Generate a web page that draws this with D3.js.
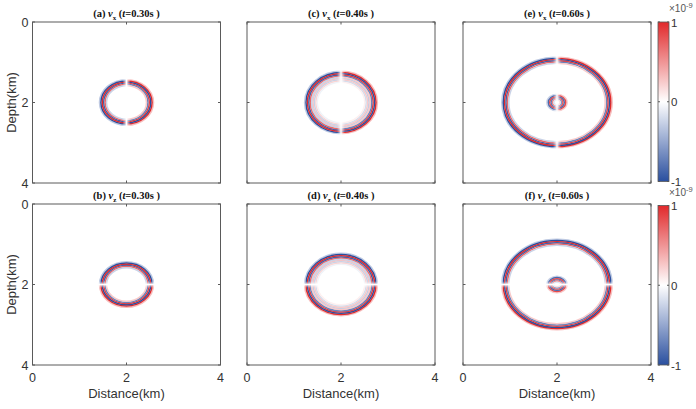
<!DOCTYPE html>
<html>
<head>
<meta charset="utf-8">
<script src="https://cdn.jsdelivr.net/npm/d3@7"></script>
<style>
  body { margin: 0; background: #fff; }
  svg { display: block; }
</style>
</head>
<body>
<div id="main"></div>
<script>
// ---- data ----
const times = [0.30, 0.40, 0.60];          // snapshot times (s), one column each
const components = ["x", "z"];             // top row v_x, bottom row v_z
const letters = [["(a)", "(c)", "(e)"], ["(b)", "(d)", "(f)"]];
const axisTicks = [0, 2, 4];               // km
const cbarTicks = [-1, 0, 1];              // x 1e-9
const source = [2, 2];                     // source position (km)

// wavefronts: time, x-radius, z-radius (km), relative amplitude
const frontTime = [0.30, 0.40, 0.40, 0.60, 0.60];
const frontRx   = [0.50, 0.58, 0.70, 1.10, 0.14];
const frontRz   = [0.49, 0.58, 0.70, 1.05, 0.13];
const frontAmp  = [1.00, 0.28, 1.00, 1.00, 0.85];

// wavelet bands, outer -> inner, offset from the front (km) and value
const bandOffset = [0.075, 0.045, 0.015, -0.015, -0.045, -0.075];
const bandValue  = [0.30, 1.00, -1.00, 0.90, -0.70, 0.25];

const ctx = {
    w: 696,
    h: 409,
    panelW: 188,
    panelH: 161,
    lefts: [32.5, 247, 463],
    tops: [22, 204],
    cbarX: 658,
    cbarW: 11,
    gap: 0.085,   // km, fade width where the component vanishes
};

const color = d3.scaleLinear()
                .domain([-1, 0, 1])
                .range(["#2a4f9f", "#ffffff", "#e1292b"])
                .interpolate(d3.interpolateRgb);

const svg = d3.select("#main").append("svg")
              .attr("width", ctx.w)
              .attr("height", ctx.h)
              .style("font-family", "Liberation Sans, Arial, sans-serif");

const defs = svg.append("defs");
defs.append("filter").attr("id", "soft")
    .attr("x", "-5%").attr("y", "-5%").attr("width", "110%").attr("height", "110%")
    .append("feGaussianBlur").attr("stdDeviation", 0.65);

function halfPath(x, y, rx, rz, comp, half){
    let cx = source[0], cz = source[1];
    let ax = Math.abs(x(cx + rx) - x(cx)), az = Math.abs(y(cz + rz) - y(cz));
    if (comp === "x"){
        // right half (+) or left half (-)
        if (half > 0) return `M${x(cx)},${y(cz - rz)} A${ax},${az} 0 0 1 ${x(cx)},${y(cz + rz)}`;
        return `M${x(cx)},${y(cz + rz)} A${ax},${az} 0 0 1 ${x(cx)},${y(cz - rz)}`;
    }
    // bottom half (+) or top half (-)
    if (half > 0) return `M${x(cx + rx)},${y(cz)} A${ax},${az} 0 0 1 ${x(cx - rx)},${y(cz)}`;
    return `M${x(cx - rx)},${y(cz)} A${ax},${az} 0 0 1 ${x(cx + rx)},${y(cz)}`;
}

function drawPanel(row, col){
    let comp = components[row], t = times[col];
    let left = ctx.lefts[col], top = ctx.tops[row];
    let x = d3.scaleLinear().domain([0, 4]).range([left, left + ctx.panelW]);
    let y = d3.scaleLinear().domain([0, 4]).range([top, top + ctx.panelH]);
    let id = `p${row}${col}`;

    // mask fading the wavefield where this component vanishes
    let grad = defs.append("linearGradient").attr("id", id + "g")
                   .attr("gradientUnits", "userSpaceOnUse");
    if (comp === "x"){
        grad.attr("x1", x(source[0] - ctx.gap)).attr("x2", x(source[0] + ctx.gap))
            .attr("y1", 0).attr("y2", 0);
    } else {
        grad.attr("x1", 0).attr("x2", 0)
            .attr("y1", y(source[1] - ctx.gap)).attr("y2", y(source[1] + ctx.gap));
    }
    [[0, "#fff"], [0.25, "#999"], [0.5, "#000"], [0.75, "#999"], [1, "#fff"]].forEach(function(s){
        grad.append("stop").attr("offset", s[0]).attr("stop-color", s[1]);
    });
    defs.append("mask").attr("id", id + "m")
        .append("rect").attr("x", left).attr("y", top)
        .attr("width", ctx.panelW).attr("height", ctx.panelH)
        .attr("fill", `url(#${id}g)`);

    defs.append("clipPath").attr("id", id + "c")
        .append("rect").attr("x", left).attr("y", top)
        .attr("width", ctx.panelW).attr("height", ctx.panelH);

    let g = svg.append("g").attr("clip-path", `url(#${id}c)`);
    g.append("rect").attr("x", left).attr("y", top)
     .attr("width", ctx.panelW).attr("height", ctx.panelH).attr("fill", "#fff");

    let field = g.append("g").attr("mask", `url(#${id}m)`).attr("filter", "url(#soft)");
    let bw = (x(0.03) - x(0)) * 1.05;

    let fronts = d3.range(frontTime.length).filter(i => frontTime[i] === t);
    fronts.forEach(function(i){
        [1, -1].forEach(function(half){
            bandOffset.forEach(function(off, k){
                let v = bandValue[k] * frontAmp[i] * half;
                field.append("path")
                     .attr("d", halfPath(x, y, frontRx[i] + off, frontRz[i] + off, comp, half))
                     .attr("fill", "none")
                     .attr("stroke", color(v))
                     .attr("stroke-width", bw);
            });
        });
    });

    // frame and inward ticks on all four sides
    let axG = svg.append("g").attr("stroke", "#5a5a5a").attr("fill", "none");
    axG.append("rect").attr("x", left).attr("y", top)
       .attr("width", ctx.panelW).attr("height", ctx.panelH).attr("stroke-width", 1);
    axisTicks.forEach(function(tk){
        axG.append("line").attr("x1", x(tk)).attr("x2", x(tk)).attr("y1", top).attr("y2", top + 2.5);
        axG.append("line").attr("x1", x(tk)).attr("x2", x(tk))
           .attr("y1", top + ctx.panelH).attr("y2", top + ctx.panelH - 2.5);
        axG.append("line").attr("y1", y(tk)).attr("y2", y(tk)).attr("x1", left).attr("x2", left + 2.5);
        axG.append("line").attr("y1", y(tk)).attr("y2", y(tk))
           .attr("x1", left + ctx.panelW).attr("x2", left + ctx.panelW - 2.5);
    });

    // title: (a) v_x (t=0.30s)
    let title = svg.append("text")
                   .attr("x", x(2)).attr("y", top - 5)
                   .attr("text-anchor", "middle")
                   .attr("font-family", "Liberation Serif, Times New Roman, serif")
                   .attr("font-weight", "bold").attr("font-size", 10.5).attr("fill", "#111");
    title.append("tspan").text(letters[row][col] + " ");
    title.append("tspan").attr("font-style", "italic").text("v");
    title.append("tspan").attr("font-size", 7).attr("dy", 2.5).text(comp);
    title.append("tspan").attr("dy", -2.5).text(" (");
    title.append("tspan").attr("font-style", "italic").text("t");
    title.append("tspan").text(`=${t.toFixed(2)}s )`);

    // tick labels only on outer panels
    if (col === 0){
        axisTicks.forEach(function(tk){
            svg.append("text").attr("x", left - 4).attr("y", y(tk) + 4.5)
               .attr("text-anchor", "end").attr("font-size", 12.5).attr("fill", "#333")
               .text(tk);
        });
        svg.append("text")
           .attr("transform", `translate(${left - 17},${y(2)}) rotate(-90)`)
           .attr("text-anchor", "middle").attr("font-size", 13).attr("fill", "#333")
           .text("Depth(km)");
    }
    if (row === 1){
        axisTicks.forEach(function(tk){
            svg.append("text").attr("x", x(tk)).attr("y", top + ctx.panelH + 17)
               .attr("text-anchor", "middle").attr("font-size", 12.5).attr("fill", "#333")
               .text(tk);
        });
        svg.append("text").attr("x", x(2)).attr("y", top + ctx.panelH + 33)
           .attr("text-anchor", "middle").attr("font-size", 13).attr("fill", "#333")
           .text("Distance(km)");
    }
}

function drawColorbar(row){
    let top = ctx.tops[row] + (row === 0 ? 0 : 1.5);
    let h = ctx.panelH - 1.5;
    let cy = d3.scaleLinear().domain([-1, 1]).range([top + h, top]);
    let gid = "cb" + row;
    let grad = defs.append("linearGradient").attr("id", gid)
                   .attr("x1", 0).attr("x2", 0).attr("y1", 1).attr("y2", 0);
    d3.range(-1, 1.001, 0.1).forEach(function(v){
        grad.append("stop").attr("offset", (v + 1) / 2).attr("stop-color", color(v));
    });
    svg.append("rect").attr("x", ctx.cbarX).attr("y", top)
       .attr("width", ctx.cbarW).attr("height", h)
       .attr("fill", `url(#${gid})`).attr("stroke", "#5a5a5a").attr("stroke-width", 0.8);
    cbarTicks.forEach(function(tk){
        svg.append("line").attr("x1", ctx.cbarX).attr("x2", ctx.cbarX + 2)
           .attr("y1", cy(tk)).attr("y2", cy(tk)).attr("stroke", "#5a5a5a");
        svg.append("line").attr("x1", ctx.cbarX + ctx.cbarW).attr("x2", ctx.cbarX + ctx.cbarW - 2)
           .attr("y1", cy(tk)).attr("y2", cy(tk)).attr("stroke", "#5a5a5a");
        svg.append("text").attr("x", ctx.cbarX + ctx.cbarW + 2).attr("y", cy(tk) + 4.5)
           .attr("font-size", 11.5).attr("fill", "#333")
           .text(tk < 0 ? "-" + Math.abs(tk) : tk);
    });
    let ex = svg.append("text").attr("x", ctx.cbarX + 11).attr("y", top - 10)
                .attr("font-size", 10).attr("fill", "#555");
    ex.append("tspan").text("\u00d710");
    ex.append("tspan").attr("font-size", 7.5).attr("dy", -4).text("-9");
}

components.forEach(function(c, row){
    times.forEach(function(t, col){ drawPanel(row, col); });
    drawColorbar(row);
});
</script>
</body>
</html>
